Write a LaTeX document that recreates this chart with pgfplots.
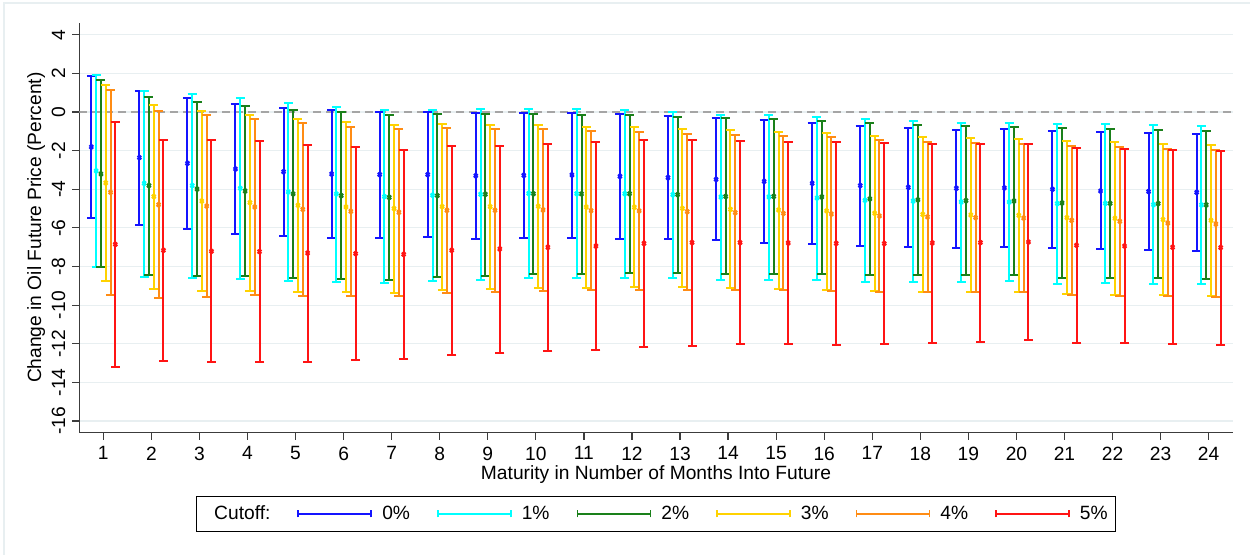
\documentclass[border=0pt]{standalone}
\usepackage{fontspec}
\setmainfont{Liberation Sans}
\usepackage{pgfplots}
\usepackage{pgfplotstable}
\pgfplotsset{compat=1.18}

\definecolor{cA}{RGB}{20,20,255}
\definecolor{cB}{RGB}{0,255,255}
\definecolor{cC}{RGB}{26,128,26}
\definecolor{cD}{RGB}{255,210,0}
\definecolor{cE}{RGB}{255,140,20}
\definecolor{cF}{RGB}{255,20,20}
\definecolor{gridc}{RGB}{232,239,241}
\definecolor{framec}{RGB}{232,239,241}
\definecolor{axisc}{RGB}{60,60,60}
\definecolor{zeroc}{RGB}{165,165,165}

\newcommand\chartfont{\fontsize{9.6}{11.5}\selectfont}

% cutoff 0%: maturity, estimate, lower bound, upper bound
\pgfplotstableread{
m est lo hi
1 -1.81 -5.50 1.88
2 -2.36 -5.83 1.10
3 -2.66 -6.07 0.74
4 -2.95 -6.30 0.41
5 -3.09 -6.42 0.22
6 -3.21 -6.50 0.09
7 -3.24 -6.50 0.02
8 -3.24 -6.49 0.00
9 -3.30 -6.56 -0.05
10 -3.28 -6.54 -0.05
11 -3.26 -6.52 -0.05
12 -3.33 -6.56 -0.12
13 -3.40 -6.59 -0.21
14 -3.49 -6.64 -0.31
15 -3.59 -6.76 -0.43
16 -3.69 -6.83 -0.55
17 -3.81 -6.92 -0.71
18 -3.90 -6.99 -0.81
19 -3.95 -7.03 -0.91
20 -3.93 -6.99 -0.90
21 -4.00 -7.04 -0.98
22 -4.09 -7.11 -1.05
23 -4.12 -7.14 -1.10
24 -4.16 -7.18 -1.16
}\cutA

% cutoff 1%
\pgfplotstableread{
m est lo hi
1 -3.05 -8.04 1.93
2 -3.69 -8.52 1.09
3 -3.81 -8.61 0.93
4 -3.95 -8.66 0.74
5 -4.14 -8.76 0.48
6 -4.24 -8.80 0.26
7 -4.38 -8.83 0.12
8 -4.31 -8.73 0.12
9 -4.26 -8.68 0.14
10 -4.21 -8.61 0.16
11 -4.23 -8.61 0.14
12 -4.23 -8.59 0.12
13 -4.28 -8.61 0.00
14 -4.40 -8.70 -0.14
15 -4.40 -8.68 -0.16
16 -4.45 -8.70 -0.24
17 -4.57 -8.78 -0.36
18 -4.61 -8.78 -0.47
19 -4.66 -8.80 -0.55
20 -4.66 -8.76 -0.57
21 -4.74 -8.89 -0.64
22 -4.73 -8.87 -0.64
23 -4.80 -8.89 -0.69
24 -4.81 -8.92 -0.72
}\cutB

% cutoff 2%
\pgfplotstableread{
m est lo hi
1 -3.21 -8.04 1.64
2 -3.81 -8.42 0.78
3 -3.99 -8.51 0.50
4 -4.09 -8.51 0.33
5 -4.24 -8.59 0.12
6 -4.33 -8.63 -0.02
7 -4.42 -8.68 -0.14
8 -4.33 -8.54 -0.10
9 -4.26 -8.47 -0.12
10 -4.23 -8.40 -0.10
11 -4.24 -8.39 -0.14
12 -4.23 -8.32 -0.17
13 -4.28 -8.32 -0.26
14 -4.37 -8.39 -0.33
15 -4.37 -8.37 -0.35
16 -4.40 -8.39 -0.45
17 -4.50 -8.44 -0.59
18 -4.55 -8.45 -0.66
19 -4.59 -8.45 -0.72
20 -4.61 -8.45 -0.76
21 -4.71 -8.57 -0.85
22 -4.73 -8.57 -0.86
23 -4.74 -8.61 -0.93
24 -4.81 -8.64 -0.98
}\cutC

% cutoff 3%
\pgfplotstableread{
m est lo hi
1 -3.67 -8.75 1.38
2 -4.38 -9.14 0.36
3 -4.61 -9.25 0.03
4 -4.69 -9.25 -0.16
5 -4.83 -9.32 -0.36
6 -4.92 -9.33 -0.53
7 -5.00 -9.37 -0.66
8 -4.90 -9.21 -0.60
9 -4.90 -9.16 -0.66
10 -4.88 -9.13 -0.67
11 -4.92 -9.13 -0.76
12 -4.93 -9.08 -0.78
13 -4.99 -9.08 -0.86
14 -5.04 -9.13 -0.95
15 -5.07 -9.14 -1.02
16 -5.12 -9.21 -1.07
17 -5.24 -9.25 -1.22
18 -5.30 -9.30 -1.31
19 -5.33 -9.30 -1.36
20 -5.35 -9.30 -1.40
21 -5.47 -9.42 -1.52
22 -5.50 -9.45 -1.55
23 -5.57 -9.49 -1.64
24 -5.61 -9.54 -1.69
}\cutD

% cutoff 4%
\pgfplotstableread{
m est lo hi
1 -4.16 -9.45 1.15
2 -4.80 -9.63 0.05
3 -4.87 -9.56 -0.17
4 -4.92 -9.49 -0.35
5 -5.04 -9.51 -0.57
6 -5.14 -9.52 -0.76
7 -5.19 -9.54 -0.86
8 -5.09 -9.37 -0.81
9 -5.09 -9.32 -0.86
10 -5.07 -9.25 -0.88
11 -5.11 -9.23 -0.97
12 -5.12 -9.20 -1.04
13 -5.16 -9.20 -1.12
14 -5.21 -9.21 -1.21
15 -5.25 -9.21 -1.26
16 -5.28 -9.25 -1.31
17 -5.38 -9.30 -1.45
18 -5.43 -9.32 -1.54
19 -5.47 -9.32 -1.59
20 -5.49 -9.32 -1.66
21 -5.61 -9.47 -1.78
22 -5.66 -9.51 -1.83
23 -5.75 -9.54 -1.92
24 -5.80 -9.59 -1.98
}\cutE

% cutoff 5%
\pgfplotstableread{
m est lo hi
1 -6.85 -13.20 -0.52
2 -7.16 -12.87 -1.47
3 -7.21 -12.94 -1.47
4 -7.23 -12.92 -1.50
5 -7.30 -12.92 -1.69
6 -7.33 -12.84 -1.81
7 -7.37 -12.78 -1.95
8 -7.16 -12.58 -1.76
9 -7.09 -12.46 -1.74
10 -7.00 -12.37 -1.64
11 -6.94 -12.30 -1.57
12 -6.80 -12.18 -1.43
13 -6.76 -12.09 -1.43
14 -6.76 -12.03 -1.48
15 -6.78 -12.01 -1.54
16 -6.80 -12.04 -1.55
17 -6.81 -11.99 -1.62
18 -6.78 -11.94 -1.64
19 -6.76 -11.89 -1.66
20 -6.73 -11.80 -1.66
21 -6.90 -11.96 -1.85
22 -6.94 -11.97 -1.90
23 -7.00 -12.01 -1.97
24 -7.02 -12.04 -2.00
}\cutF

\pgfplotsset{
  cutoff/.style={
    color=#1, only marks, mark=x, mark size=1.3pt,
    mark options={line width=1.1pt, solid},
    legend image code/.code={
      \draw[#1, line width=0.9pt]
        (0pt,0pt) -- (36.5pt,0pt)
        (0pt,-1.75pt) -- (0pt,1.75pt)
        (36.5pt,-1.75pt) -- (36.5pt,1.75pt);},
    error bars/.cd, y dir=both, y explicit,
    error bar style={#1, line width=1pt},
    error mark options={#1, rotate=90, mark size=2.25pt, line width=1pt},
  },
  /pgfplots/table/cutoff table/.style={
    x expr=\thisrow{m}+(#1), y=est,
    y error plus expr=\thisrow{hi}-\thisrow{est},
    y error minus expr=\thisrow{est}-\thisrow{lo},
  },
}

\begin{document}
\begin{tikzpicture}[x=1pt,y=1pt]
\useasboundingbox (0,0) rectangle (625,277.5);
\draw[framec, line width=0.6pt] (2,0) -- (2,276) -- (625,276);
\begin{axis}[
  at={(39.65pt,61.15pt)}, anchor=south west,
  scale only axis, width=576.7pt, height=205pt,
  xmin=0.5, xmax=24.5, ymin=-16.6, ymax=4.62,
  xtick={1,...,24}, ytick={-16,-14,...,4},
  /pgf/number format/assume math mode=true,
  axis x line*=bottom, axis y line*=left,
  axis line style={draw=axisc, line width=0.6pt},
  tick align=outside, major tick length=3.5pt,
  tick style={draw=axisc, line width=0.6pt},
  ymajorgrids, grid style={gridc, line width=0.6pt},
  tick label style={font=\chartfont},
  yticklabel style={rotate=90, anchor=south},
  xlabel={Maturity in Number of Months Into Future},
  ylabel={Change in Oil Future Price (Percent)},
  xlabel style={at={(axis description cs:0.5,-0.103)}, anchor=center, font=\chartfont},
  ylabel style={at={(axis description cs:-0.0375,0.5)}, anchor=center, font=\chartfont},
  legend columns=7,
  legend style={
    at={(0.5,-0.198)}, anchor=center,
    draw=black, line width=0.5pt, font=\chartfont,
    inner xsep=4pt, inner ysep=4pt,
    nodes={inner xsep=0pt, inner ysep=0.5pt},
    /tikz/every odd column/.append style={column sep=5pt},
    /tikz/every even column/.append style={column sep=13.5pt},
  },
  legend cell align=left,
]
% zero reference line
\addplot[forget plot, zeroc, dash pattern=on 4pt off 2.5pt, line width=0.75pt]
  coordinates {(0.5,0) (24.5,0)};

\addlegendimage{empty legend}
\addlegendentry{Cutoff:}

\addplot[cutoff=cA] table[cutoff table=-0.25] {\cutA};
\addlegendentry{0\%}
\addplot[cutoff=cB] table[cutoff table=-0.15] {\cutB};
\addlegendentry{1\%}
\addplot[cutoff=cC] table[cutoff table=-0.05] {\cutC};
\addlegendentry{2\%}
\addplot[cutoff=cD] table[cutoff table=0.05] {\cutD};
\addlegendentry{3\%}
\addplot[cutoff=cE] table[cutoff table=0.15] {\cutE};
\addlegendentry{4\%}
\addplot[cutoff=cF] table[cutoff table=0.25] {\cutF};
\addlegendentry{5\%}
\end{axis}
\end{tikzpicture}
\end{document}
